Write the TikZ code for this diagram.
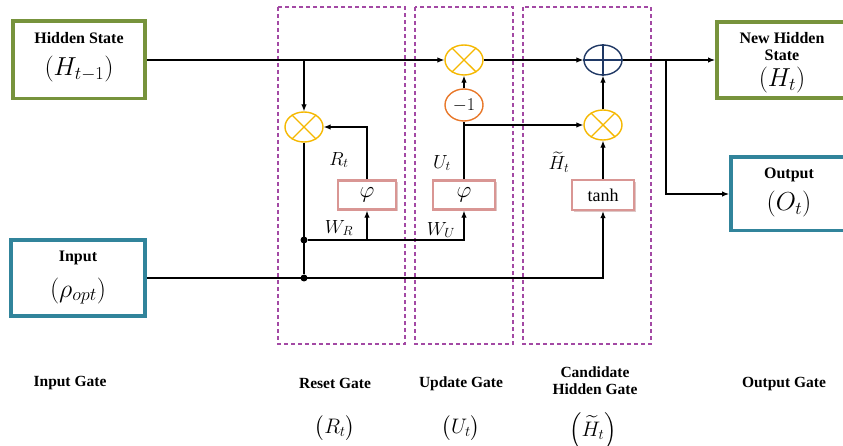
\RequirePackage{fix-cm}
\documentclass[tikz,border=0pt]{standalone}
\usepackage{amsmath}
\usepackage{fontspec}
\setmainfont{Liberation Serif}
\usepackage{tikz}
\usetikzlibrary{arrows.meta,positioning,calc,shapes.geometric,shadows}
\definecolor{boxgreen}{HTML}{77933C}
\definecolor{boxteal}{HTML}{31849B}
\definecolor{gatepurple}{HTML}{A349A4}
\definecolor{opyellow}{HTML}{F5B800}
\definecolor{oporange}{HTML}{E8782A}
\definecolor{opnavy}{HTML}{1F3864}
\definecolor{actrose}{HTML}{D99694}

\begin{document}
\begin{tikzpicture}[x=1pt, y=-1pt,
  conn/.style={line width=1.1pt},
  arr/.style={conn, -{Latex[length=7pt,width=5.5pt]}},
  statebox/.style={draw=#1, line width=3.5pt, fill=white, inner sep=0pt},
  title/.style={font=\bfseries\fontsize{16}{17}\selectfont, align=center, inner sep=1pt},
  bigmath/.style={font=\fontsize{26}{28}\selectfont, inner sep=1pt},
  midmath/.style={font=\fontsize{19}{21}\selectfont, inner sep=1pt},
  lowmath/.style={font=\fontsize{21}{23}\selectfont, inner sep=1pt},
  gatelabel/.style={font=\bfseries\fontsize{15.5}{17}\selectfont, align=center, inner sep=1pt},
  gateframe/.style={draw=gatepurple, line width=1.1pt, dash pattern=on 4pt off 3pt},
  opnode/.style={ellipse, draw=#1, line width=1.4pt, fill=white, minimum width=38pt, minimum height=30pt, inner sep=0pt},
  actbox/.style={draw=actrose, line width=2.5pt, fill=white, inner sep=0pt, minimum height=29pt,
    drop shadow={shadow xshift=2pt, shadow yshift=-2pt, opacity=0.5, fill=actrose!70!gray}},
  dot/.style={circle, fill=black, inner sep=0pt, minimum size=7pt}]
\clip (0,0) rectangle (843,446);

% gate frames
\draw[gateframe] (278,7) rectangle (405,344);
\draw[gateframe] (415,7) rectangle (513,344);
\draw[gateframe] (523,7) rectangle (651,344);

% state boxes
\node[statebox=boxgreen, minimum width=132.5pt, minimum height=77.5pt] (hid) at (79,60) {};
\node[statebox=boxteal, minimum width=134.5pt, minimum height=76.5pt] (inp) at (78,278) {};
\node[statebox=boxgreen, minimum width=136.5pt, minimum height=76.5pt] (newhid) at (785,60) {};
\node[statebox=boxteal, minimum width=122.5pt, minimum height=73.5pt] (outp) at (792,194) {};
\foreach \n/\c in {hid/boxgreen, inp/boxteal, newhid/boxgreen, outp/boxteal}
  \draw[\c, line width=0.8pt] ([shift={(3.2pt,3.2pt)}]\n.south west) rectangle ([shift={(-3.2pt,-3.2pt)}]\n.north east);

\node[title] (hidtitle) at (79,38) {Hidden State};
\node[bigmath] (hidmath) at (79,69) {$\left(H_{t-1}\right)$};
\node[title] (inptitle) at (78,258) {Input};
\node[bigmath] (inpmath) at (78,291) {$\left(\rho_{opt}\right)$};
\node[title] (newtitle) at (782,47) {New Hidden\\State};
\node[bigmath] (newmath) at (782,80) {$\left(H_{t}\right)$};
\node[title] (outtitle) at (789,175) {Output};
\node[bigmath] (outmath) at (789,204) {$\left(O_{t}\right)$};

% operators
\node[opnode=opyellow] (rmul) at (304,127) {};
\node[opnode=opyellow] (umul) at (464,60) {};
\node[opnode=oporange, minimum height=32pt, font=\fontsize{18}{20}\selectfont] (neg) at (464,105) {$-1$};
\node[opnode=opyellow] (cmul) at (603,125) {};
\node[opnode=opnavy] (plus) at (603,60) {};
\foreach \n in {rmul, umul, cmul}
  \draw[opyellow, line width=1.4pt] (\n.45) -- (\n.225) (\n.135) -- (\n.315);
\draw[opnavy, line width=1.4pt] (plus.north) -- (plus.south) (plus.west) -- (plus.east);

% activations
\node[actbox, minimum width=58pt, font=\fontsize{23}{25}\selectfont] (rphi) at (367,195) {$\varphi$};
\node[actbox, minimum width=62pt, font=\fontsize{23}{25}\selectfont] (uphi) at (464,195) {$\varphi$};
\node[actbox, minimum width=62pt, minimum height=30pt, font=\fontsize{18}{20}\selectfont] (tanhb) at (603,195) {tanh};

% junctions
\coordinate (rsplit) at (304,60);
\node[dot] (wdot) at (304,240) {};
\node[dot] (idot) at (304,278) {};
\coordinate (ujoin) at (464,125);
\coordinate (osplit) at (666,60);

% connectors
\draw[arr] (hid.east) -- (umul.west);
\draw[arr] (rsplit) -- (rmul.north);
\draw[arr] (umul.east) -- (plus.west);
\draw[arr] (plus.east) -- (newhid.west);
\draw[arr] (osplit) |- (outp.west);
\draw[conn] (rmul.south) -- (idot);
\draw[arr] (inp.east) -| (tanhb.south);
\draw[arr] (wdot) -| (uphi.south);
\draw[arr] (wdot -| rphi.south) -- (rphi.south);
\draw[arr] (rphi.north) |- (rmul.east);
\draw[conn] (uphi.north) -- (neg.south);
\draw[arr] (neg.north) -- (umul.south);
\draw[arr] (ujoin) -- (cmul.west);
\draw[arr] (tanhb.north) -- (cmul.south);
\draw[arr] (cmul.north) -- (plus.south);

% signal labels
\node[midmath] (rtlab) at (339,160) {$R_t$};
\node[midmath] (wrlab) at (339,228) {$W_R$};
\node[midmath] (utlab) at (442,163) {$U_t$};
\node[midmath] (wulab) at (441,230) {$W_U$};
\node[midmath] (htlab) at (559,162) {$\widetilde{H}_t$};

% gate names
\node[gatelabel] (ingate) at (70,383) {Input Gate};
\node[gatelabel] (rgate) at (335,383) {Reset Gate};
\node[gatelabel] (ugate) at (461,384) {Update Gate};
\node[gatelabel] (cgate) at (595,381) {Candidate\\Hidden Gate};
\node[gatelabel] (ogate) at (784,384) {Output Gate};
\node[lowmath] (rgmath) at (335,428) {$\bigl(R_t\bigr)$};
\node[lowmath] (ugmath) at (461,428) {$\bigl(U_t\bigr)$};
\node[lowmath] (cgmath) at (593,431) {$\Bigl(\widetilde{H}_t\Bigr)$};
\end{tikzpicture}
\end{document}
